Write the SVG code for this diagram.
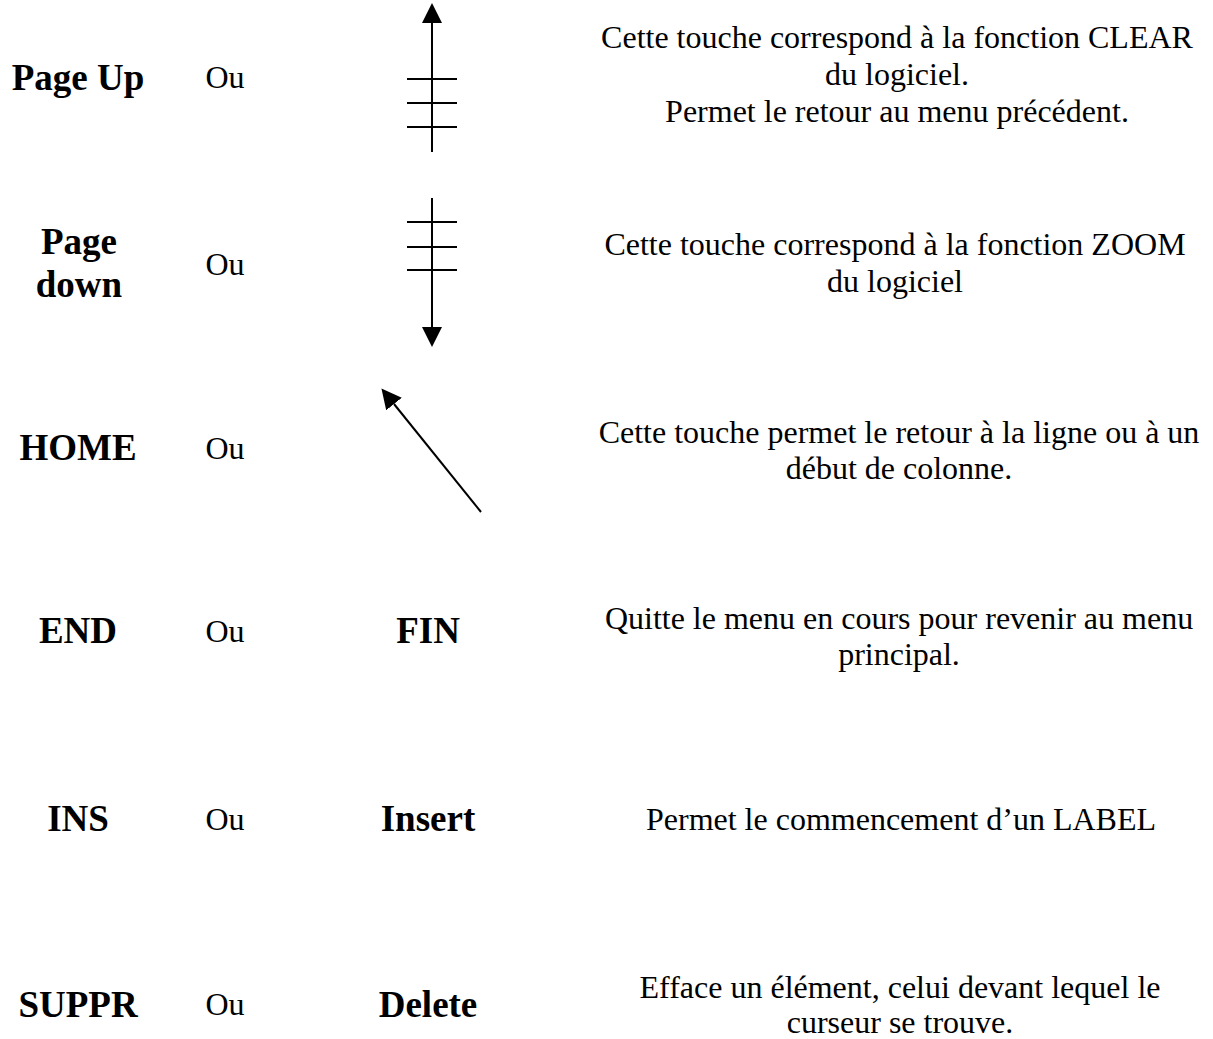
<svg xmlns="http://www.w3.org/2000/svg" width="1213" height="1039" viewBox="0 0 1213 1039">
<style>
.lbl{font-family:"Liberation Serif","Times New Roman",serif;font-weight:bold;font-size:37px;fill:#000;text-anchor:middle}
.ou{font-family:"Liberation Serif","Times New Roman",serif;font-size:32px;fill:#000;text-anchor:middle}
.desc{font-family:"Liberation Serif","Times New Roman",serif;font-size:32px;fill:#000;text-anchor:middle}
.ln{stroke:#000;stroke-width:2;fill:none}
</style>
<defs>
<marker id="ah" markerUnits="userSpaceOnUse" markerWidth="20" markerHeight="20" viewBox="0 0 16 16" refX="0" refY="8" orient="auto">
<path d="M0,0 L16,8 L0,16 Z" fill="#000"/>
</marker>
</defs>
<rect width="1213" height="1039" fill="#fff"/>
<g id="row-pageup">
<text class="lbl" x="78" y="90">Page Up</text>
<text class="ou" x="225" y="88">Ou</text>
<text class="desc" x="897" y="48">Cette touche correspond à la fonction CLEAR</text>
<text class="desc" x="897" y="85">du logiciel.</text>
<text class="desc" x="897" y="122">Permet le retour au menu précédent.</text>
</g>
<g id="row-pagedown">
<text class="lbl" x="79" y="254">Page</text>
<text class="lbl" x="79" y="297">down</text>
<text class="ou" x="225" y="275">Ou</text>
<text class="desc" x="895" y="255">Cette touche correspond à la fonction ZOOM</text>
<text class="desc" x="895" y="292">du logiciel</text>
</g>
<g id="row-home">
<text class="lbl" x="78" y="460">HOME</text>
<text class="ou" x="225" y="459">Ou</text>
<text class="desc" x="899" y="443">Cette touche permet le retour à la ligne ou à un</text>
<text class="desc" x="899" y="479">début de colonne.</text>
</g>
<g id="row-end">
<text class="lbl" x="78" y="643">END</text>
<text class="ou" x="225" y="642">Ou</text>
<text class="lbl" x="428" y="643">FIN</text>
<text class="desc" x="899" y="629">Quitte le menu en cours pour revenir au menu</text>
<text class="desc" x="899" y="665">principal.</text>
</g>
<g id="row-ins">
<text class="lbl" x="78" y="831">INS</text>
<text class="ou" x="225" y="830">Ou</text>
<text class="lbl" x="428" y="831">Insert</text>
<text class="desc" x="901" y="830">Permet le commencement d’un LABEL</text>
</g>
<g id="row-suppr">
<text class="lbl" x="78" y="1017">SUPPR</text>
<text class="ou" x="225" y="1015">Ou</text>
<text class="lbl" x="428" y="1017">Delete</text>
<text class="desc" x="900" y="998">Efface un élément, celui devant lequel le</text>
<text class="desc" x="900" y="1033">curseur se trouve.</text>
</g>
<g id="connectors">
<g id="arrow-up">
<line class="ln" x1="432" y1="152" x2="432" y2="23" marker-end="url(#ah)"/>
<line class="ln" x1="407" y1="79" x2="457" y2="79"/>
<line class="ln" x1="407" y1="103" x2="457" y2="103"/>
<line class="ln" x1="407" y1="127" x2="457" y2="127"/>
</g>
<g id="arrow-down">
<line class="ln" x1="432" y1="198" x2="432" y2="327" marker-end="url(#ah)"/>
<line class="ln" x1="407" y1="222" x2="457" y2="222"/>
<line class="ln" x1="407" y1="247" x2="457" y2="247"/>
<line class="ln" x1="407" y1="270" x2="457" y2="270"/>
</g>
<g id="arrow-diag">
<line class="ln" x1="481" y1="512" x2="394" y2="404" marker-end="url(#ah)"/>
</g>
</g>
</svg>
